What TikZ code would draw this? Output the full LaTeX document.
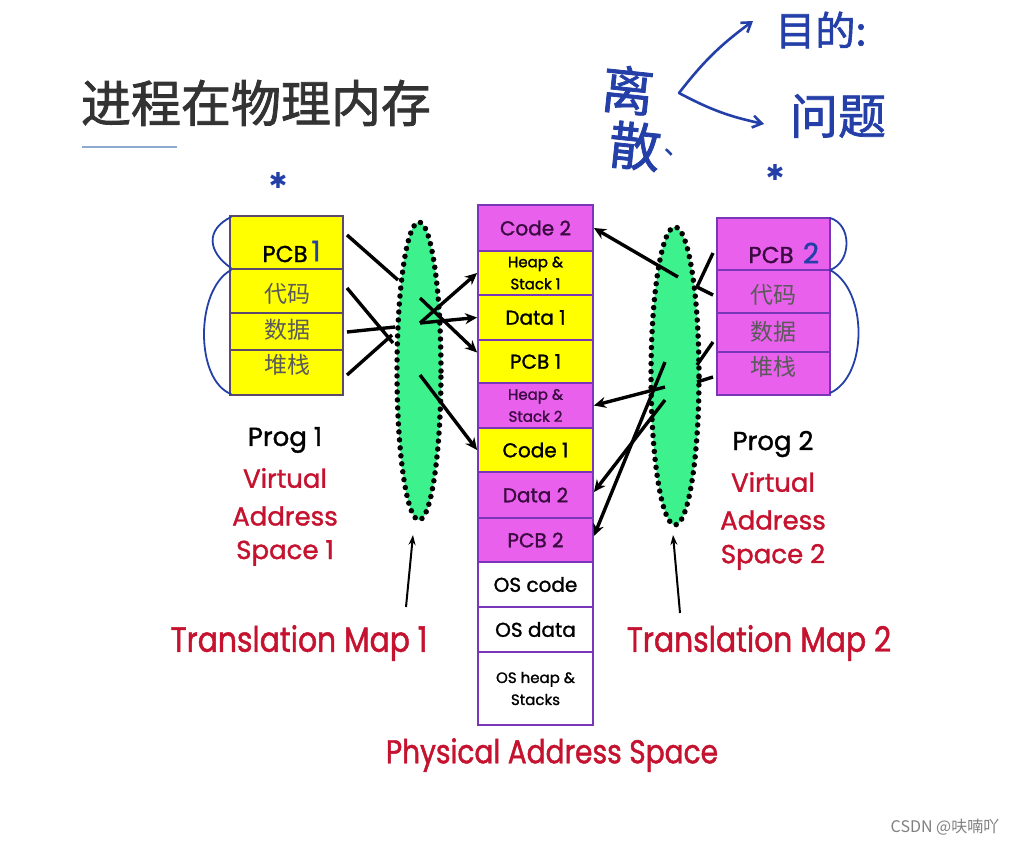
\documentclass[tikz,border=0pt]{standalone}
\usepackage{fontspec}
\usetikzlibrary{arrows.meta,shapes.geometric}
\newfontfamily\comic[FakeBold=1.3]{Poppins}
\newfontfamily\comicn[FakeStretch=0.85,FakeBold=1.3]{Poppins}
\newfontfamily\cjk{Noto Sans CJK SC}
\newfontfamily\cjkt[FakeBold=1.6]{Noto Sans CJK SC}
\newfontfamily\cjkh[FakeBold=1.5]{Noto Sans CJK SC}
\newfontfamily\symf{DejaVu Sans}
\definecolor{cyel}{HTML}{FFFF00}
\definecolor{cmag}{HTML}{E860EC}
\definecolor{cgrn}{HTML}{3DF28D}
\definecolor{cred}{HTML}{C4122F}
\definecolor{cpur}{HTML}{7A36B8}
\definecolor{cbox}{HTML}{5B4A6B}
\definecolor{cdpur}{HTML}{3A0A40}
\definecolor{cpen}{HTML}{2440A8}
\definecolor{cgray}{HTML}{5A5A5A}
\definecolor{cline}{HTML}{8CAAD2}
\begin{document}
\begin{tikzpicture}[x=1pt,y=-1pt,
  cell/.style={draw=cpur,line width=1.8pt,minimum width=115pt,inner sep=0pt,
    font=\comic\fontsize{20}{24}\selectfont},
  small/.style={font=\comic\fontsize{15}{22}\selectfont,align=center},
  vcell/.style={draw=cbox,line width=1.8pt,minimum width=113pt,inner sep=0pt},
  cjktxt/.style={font=\cjk\fontsize{23}{26}\selectfont,text=cgray},
  lbl/.style={font=\comic\fontsize{26}{30}\selectfont},
  big/.style={font=\comicn\fontsize{35}{38}\selectfont,text=cred},
  map/.style={ellipse,fill=cgrn,draw=black,line width=5.5pt,dash pattern=on 0pt off 8pt,
    line cap=round,inner sep=0pt},
  ln/.style={line width=3.4pt},
  arr/.style={line width=3.4pt,-{Stealth[length=12pt,width=11pt]}},
  thin/.style={line width=2pt,-{Stealth[length=10pt,width=7pt]}},
  pen/.style={draw=cpen,line width=2.6pt,line cap=round},
  hand/.style={text=cpen,inner sep=0pt}]
\fill[white] (0,0) rectangle (1027,849);
\useasboundingbox (0,0) rectangle (1027,849);

% title
\node[font=\cjkt\fontsize{50}{54}\selectfont,text=black!80] (title) at (256,103) {进程在物理内存};
\draw[cline,line width=2.5pt] (82,147) -- (177,147);

% physical memory stack
\node[cell,fill=cmag,text=cdpur,minimum height=46pt] (m1) at (535.5,228) {Code 2};
\node[cell,small,fill=cyel,minimum height=44pt] (m2) at (535.5,273) {Heap \&\\Stack 1};
\node[cell,fill=cyel,minimum height=45pt] (m3) at (535.5,317.5) {Data 1};
\node[cell,fill=cyel,minimum height=43pt] (m4) at (535.5,361.5) {PCB 1};
\node[cell,small,fill=cmag,text=cdpur,minimum height=45pt] (m5) at (535.5,405.5) {Heap \&\\Stack 2};
\node[cell,fill=cyel,minimum height=44pt] (m6) at (535.5,450) {Code 1};
\node[cell,fill=cmag,text=cdpur,minimum height=46pt] (m7) at (535.5,495) {Data 2};
\node[cell,fill=cmag,text=cdpur,minimum height=44pt] (m8) at (535.5,540) {PCB 2};
\node[cell,fill=white,minimum height=45pt] (m9) at (535.5,584.5) {OS code};
\node[cell,fill=white,minimum height=45pt] (m10) at (535.5,629.5) {OS data};
\node[cell,small,fill=white,minimum height=73pt] (m11) at (535.5,688.5) {OS heap \&\\Stacks};

% prog 1 virtual space
\node[vcell,fill=cyel,minimum height=53pt] (l1) at (286.5,242.5) {};
\node[vcell,fill=cyel,minimum height=44pt] (l2) at (286.5,291) {};
\node[vcell,fill=cyel,minimum height=37pt] (l3) at (286.5,331.5) {};
\node[vcell,fill=cyel,minimum height=45pt] (l4) at (286.5,372.5) {};
\node[font=\comic\fontsize{23}{26}\selectfont] (l1t) at (285,254) {PCB};
\node[hand,font=\comic\fontsize{28}{30}\selectfont] (l1n) at (316,251) {1};
\node[cjktxt] (l2t) at (287,294) {代码};
\node[cjktxt] (l3t) at (287,330) {数据};
\node[cjktxt] (l4t) at (287,365) {堆栈};

% prog 2 virtual space
\node[vcell,draw=cpur,fill=cmag,minimum height=52pt] (r1) at (773.5,244) {};
\node[vcell,draw=cpur,fill=cmag,minimum height=43pt] (r2) at (773.5,291.5) {};
\node[vcell,draw=cpur,fill=cmag,minimum height=39pt] (r3) at (773.5,332.5) {};
\node[vcell,draw=cpur,fill=cmag,minimum height=43pt] (r4) at (773.5,373.5) {};
\node[font=\comic\fontsize{23}{26}\selectfont,text=cdpur] (r1t) at (771,255) {PCB};
\node[hand,font=\comic\fontsize{28}{30}\selectfont] (r1n) at (811,253) {2};
\node[cjktxt] (r2t) at (773,295) {代码};
\node[cjktxt] (r3t) at (773,332) {数据};
\node[cjktxt] (r4t) at (773,367) {堆栈};

% braces
\draw[pen,line width=1.8pt] (231,217) .. controls (205,230) and (208,252) .. (231,268);
\draw[pen,line width=1.8pt] (231,270) .. controls (195,290) and (195,380) .. (231,394);
\draw[pen,line width=1.8pt] (830,218) .. controls (852,224) and (852,262) .. (830,270);
\draw[pen,line width=1.8pt] (830,270) .. controls (868,290) and (868,376) .. (830,393);

% translation maps
\node[map,minimum width=44pt,minimum height=298pt] (e1) at (419,371) {};
\node[map,minimum width=48pt,minimum height=298pt] (e2) at (675,376) {};

% left connectors
\coordinate (a1) at (347,235); \coordinate (a1e) at (398,280);
\coordinate (a2) at (347,288); \coordinate (a2e) at (393,343);
\coordinate (a3) at (347,332); \coordinate (a3e) at (395,327);
\coordinate (a4) at (347,375); \coordinate (a4e) at (392,335);
\draw[ln] (a1) -- (a1e);
\draw[ln] (a2) -- (a2e);
\draw[ln] (a3) -- (a3e);
\draw[ln] (a4) -- (a4e);
\coordinate (s1) at (420,323);
\coordinate (s2) at (420,298);
\coordinate (s3) at (420,375);
\draw[arr] (s1) -- (m2.west);
\draw[arr] (s1) -- (m3.west);
\draw[arr] (s2) -- ([yshift=9pt]m4.west);
\draw[arr] (s3) -- (m6.west);

% right connectors
\coordinate (b1) at (713,253); \coordinate (b1e) at (697,287);
\coordinate (b2) at (713,295);
\coordinate (b3) at (713,342); \coordinate (b3e) at (697,365);
\coordinate (b4) at (713,377); \coordinate (b4e) at (697,382);
\draw[ln] (b1) -- (b1e);
\draw[ln] (b2) -- (b1e);
\draw[ln] (b3) -- (b3e);
\draw[ln] (b4) -- (b4e);
\coordinate (t1) at (678,277);
\coordinate (t2) at (665,387);
\coordinate (t3) at (665,400);
\coordinate (t4) at (665,362);
\draw[arr] (t1) -- (m1.east);
\draw[arr] (t2) -- (m5.east);
\draw[arr] (t3) -- ([yshift=3pt]m7.east);
\draw[arr] (t4) -- ([yshift=4pt]m8.east);

% labels
\node[lbl] (p1) at (285,440) {Prog 1};
\node[lbl,text=cred] (v1) at (285,478) {Virtual};
\node[lbl,text=cred] (ad1) at (285,516) {Address};
\node[lbl,text=cred] (sp1) at (285,553) {Space 1};
\node[lbl] (p2) at (773,444) {Prog 2};
\node[lbl,text=cred] (v2) at (773,482) {Virtual};
\node[lbl,text=cred] (ad2) at (773,520) {Address};
\node[lbl,text=cred] (sp2) at (773,557) {Space 2};
\node[big] (tm1) at (299,643) {Translation Map 1};
\node[big] (tm2) at (759,643) {Translation Map 2};
\node[big,font=\comicn\fontsize{33}{36}\selectfont] (pas) at (552,755) {Physical Address Space};
\coordinate (c1) at (406,607); \coordinate (c1e) at (413,535);
\coordinate (c2) at (680,613); \coordinate (c2e) at (673,535);
\draw[thin] (c1) -- (c1e);
\draw[thin] (c2) -- (c2e);

% handwritten notes
\node[hand,font=\cjkh\fontsize{52}{54}\selectfont,rotate=-6] (h1) at (628,90) {离};
\node[hand,font=\cjkh\fontsize{52}{54}\selectfont,rotate=-6] (h2) at (635,146) {散};
\node[hand,font=\cjkh\fontsize{24}{26}\selectfont] (h3) at (676,152) {、};
\coordinate (hc) at (679,93);
\coordinate (hx1) at (753,21);
\coordinate (hx2) at (764,124);
\draw[pen,-{Straight Barb[length=9pt,width=12pt]}] (hc) to[bend left=8] (hx1);
\draw[pen,-{Straight Barb[length=9pt,width=12pt]}] (hc) to[bend right=8] (hx2);
\node[hand,font=\cjkh\fontsize{40}{42}\selectfont] (h4) at (821,30) {目的:};
\node[hand,font=\cjkh\fontsize{48}{50}\selectfont] (h5) at (838,116) {问题};
\node[hand,font=\symf\fontsize{22}{24}\selectfont] (st1) at (278,180) {✱};
\node[hand,font=\symf\fontsize{22}{24}\selectfont] (st2) at (775,172) {✱};

% watermark
\node[font=\cjk\fontsize{16}{18}\selectfont,text=black!50] (wm) at (945,827) {CSDN @呋喃吖};
\end{tikzpicture}
\end{document}
